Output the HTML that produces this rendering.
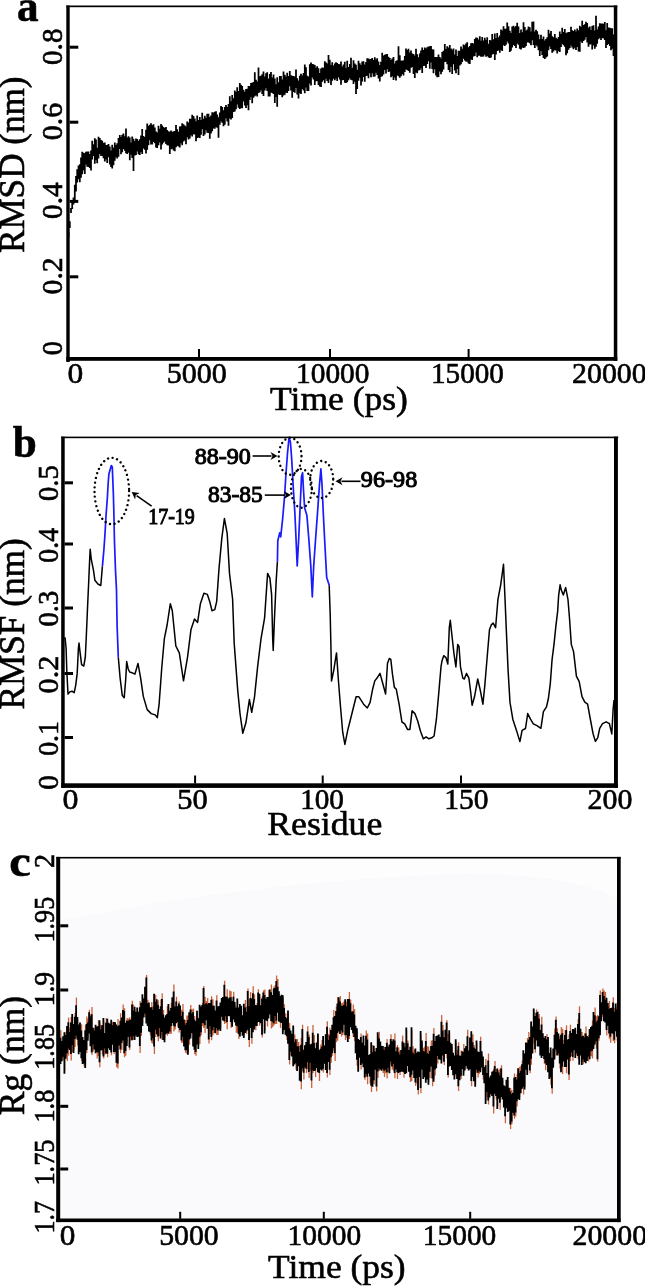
<!DOCTYPE html>
<html><head><meta charset="utf-8"><style>
html,body{margin:0;padding:0;background:#fff;}
svg{display:block;will-change:transform;filter:blur(0.3px);}
text{font-family:"Liberation Serif",serif;fill:#000;stroke:#000;stroke-width:0.6;}
g text{stroke-width:inherit;}
</style></head><body>
<svg width="645" height="1286" viewBox="0 0 645 1286">
<rect width="645" height="1286" fill="#fff"/>
<rect x="56.4" y="857.4" width="564.2" height="362.5" fill="#fafafc"/>
<path d="M58,858 L58,921 Q250,882 450,874 Q560,871 618,898 L618,858 Z" fill="#fdfdfe"/>
<path d="M68.5 231.8V237.5M69.8 221.3V227.9M71.0 207.9V213.1M72.2 202.4V209.1M73.5 197.4V204.6M74.8 184.8V202.1M76.0 176.0V191.4M77.2 169.3V182.4M78.5 165.6V179.3M79.8 164.2V182.3M81.0 157.4V177.7M82.2 151.8V174.3M83.5 152.8V170.4M84.8 153.2V173.9M86.0 151.7V164.4M87.2 151.5V166.8M88.5 151.4V166.9M89.8 154.1V167.9M91.0 150.5V170.4M92.2 140.7V159.6M93.5 144.3V155.9M94.8 138.3V163.8M96.0 139.6V160.3M97.2 147.7V163.3M98.5 136.8V158.4M99.8 137.9V154.1M101.0 140.0V156.1M102.2 140.7V156.0M103.5 142.7V158.2M104.8 142.5V161.4M106.0 144.9V159.6M107.2 145.1V162.9M108.5 144.0V157.2M109.8 146.6V164.6M111.0 150.6V167.1M112.2 144.8V168.6M113.5 147.4V165.2M114.8 142.5V160.7M116.0 144.9V157.2M117.2 143.2V158.5M118.5 138.0V156.7M119.8 135.1V148.9M121.0 136.9V154.3M122.2 134.7V152.3M123.5 133.4V148.9M124.8 136.3V150.7M126.0 128.4V153.2M127.2 137.5V154.0M128.5 136.2V152.7M129.8 137.4V160.3M131.0 142.4V154.7M132.2 136.6V158.0M133.5 138.8V171.0M134.8 141.0V155.6M136.0 138.5V155.0M137.2 139.0V151.5M138.5 140.8V154.3M139.8 139.2V155.0M141.0 135.5V151.9M142.2 128.9V153.9M143.5 136.1V148.6M144.8 137.1V149.8M146.0 129.8V153.5M147.2 123.4V149.8M148.5 125.8V145.2M149.8 124.7V140.2M151.0 123.3V144.6M152.2 125.2V144.6M153.5 124.3V141.9M154.8 127.5V143.2M156.0 131.5V147.6M157.2 132.4V148.1M158.5 125.7V145.2M159.8 128.8V142.6M161.0 123.9V149.4M162.2 125.4V144.5M163.5 127.0V142.7M164.8 128.0V141.6M166.0 127.1V143.9M167.2 130.1V145.2M168.5 131.3V145.5M169.8 131.7V154.0M171.0 130.6V149.2M172.2 132.0V148.8M173.5 131.3V150.4M174.8 131.1V151.2M176.0 125.1V147.2M177.2 129.3V145.8M178.5 131.8V146.4M179.8 126.4V147.4M181.0 126.3V143.2M182.2 123.2V145.3M183.5 124.3V141.4M184.8 125.6V140.4M186.0 126.6V144.3M187.2 121.4V137.3M188.5 122.5V139.5M189.8 118.8V138.5M191.0 118.7V135.3M192.2 114.7V136.6M193.5 116.0V134.2M194.8 118.4V134.6M196.0 121.3V141.2M197.2 115.6V138.0M198.5 119.9V137.6M199.8 116.9V138.0M201.0 119.9V134.8M202.2 112.8V129.3M203.5 118.8V135.9M204.8 115.7V134.6M206.0 117.7V130.3M207.2 113.8V132.8M208.5 113.7V133.0M209.8 116.9V138.8M211.0 115.6V133.4M212.2 112.2V131.3M213.5 112.4V128.6M214.8 111.7V128.7M216.0 111.3V126.9M217.2 114.4V127.8M218.5 117.2V137.7M219.8 112.4V124.8M221.0 105.9V121.4M222.2 107.1V122.7M223.5 110.3V126.2M224.8 106.9V124.8M226.0 104.9V118.3M227.2 107.0V121.5M228.5 104.1V125.7M229.8 96.3V118.6M231.0 101.2V119.6M232.2 95.1V118.1M233.5 98.2V112.0M234.8 90.5V111.5M236.0 92.0V109.2M237.2 87.3V104.5M238.5 90.9V107.7M239.8 82.9V108.9M241.0 84.8V108.0M242.2 86.0V108.3M243.5 89.8V101.6M244.8 91.7V105.4M246.0 88.9V108.1M247.2 88.7V105.2M248.5 85.9V110.3M249.8 86.1V100.1M251.0 83.1V97.2M252.2 82.7V103.3M253.5 82.1V97.8M254.8 72.3V96.3M256.0 79.7V95.2M257.2 81.4V96.4M258.5 67.6V93.0M259.8 76.2V92.3M261.0 75.7V90.3M262.2 74.3V93.9M263.5 71.5V95.9M264.8 76.6V90.5M266.0 73.3V88.3M267.2 72.3V91.1M268.5 78.6V96.6M269.8 74.1V96.5M271.0 72.0V92.4M272.2 77.5V93.1M273.5 74.4V94.0M274.8 78.4V102.9M276.0 84.2V97.0M277.2 77.3V106.7M278.5 82.3V94.6M279.8 75.9V94.9M281.0 76.0V94.8M282.2 79.4V97.2M283.5 71.6V95.5M284.8 74.8V94.7M286.0 76.5V92.4M287.2 72.7V93.0M288.5 76.0V90.9M289.8 71.0V86.2M291.0 75.3V90.5M292.2 75.8V97.7M293.5 76.0V92.0M294.8 76.5V92.8M296.0 69.5V88.0M297.2 78.3V94.4M298.5 80.4V98.5M299.8 75.8V93.2M301.0 73.7V94.0M302.2 75.4V89.1M303.5 73.0V90.6M304.8 64.6V93.3M306.0 67.3V87.4M307.2 75.7V91.1M308.5 76.4V91.1M309.8 64.2V83.6M311.0 62.6V85.4M312.2 64.0V77.5M313.5 64.2V79.5M314.8 65.0V85.0M316.0 67.7V81.3M317.2 66.2V81.2M318.5 68.3V85.1M319.8 72.9V86.6M321.0 68.4V87.1M322.2 67.6V81.7M323.5 67.8V80.3M324.8 61.2V83.2M326.0 62.5V78.8M327.2 63.5V81.1M328.5 55.0V82.9M329.8 59.8V79.5M331.0 65.0V85.1M332.2 62.2V80.8M333.5 65.5V78.7M334.8 63.5V80.2M336.0 62.2V78.4M337.2 62.9V80.9M338.5 64.0V77.2M339.8 64.3V79.4M341.0 61.6V84.7M342.2 66.4V80.3M343.5 64.6V80.1M344.8 61.7V82.7M346.0 68.2V83.1M347.2 60.8V82.2M348.5 66.9V80.2M349.8 64.1V78.3M351.0 57.8V79.7M352.2 67.8V80.2M353.5 60.2V84.0M354.8 63.5V81.8M356.0 64.8V94.0M357.2 69.8V88.9M358.5 60.8V80.8M359.8 63.3V77.8M361.0 64.9V85.5M362.2 61.5V81.6M363.5 61.2V76.9M364.8 64.5V81.8M366.0 61.9V75.9M367.2 58.3V75.8M368.5 58.6V78.3M369.8 59.2V73.2M371.0 58.9V77.3M372.2 58.0V73.3M373.5 60.0V76.8M374.8 57.2V76.5M376.0 59.5V72.8M377.2 58.2V75.0M378.5 61.5V78.5M379.8 65.0V81.4M381.0 61.8V76.7M382.2 52.8V76.3M383.5 55.4V74.5M384.8 54.8V70.0M386.0 54.3V73.5M387.2 53.9V69.2M388.5 56.7V72.0M389.8 57.9V71.6M391.0 59.9V77.2M392.2 58.6V76.2M393.5 57.1V80.0M394.8 63.5V77.5M396.0 61.0V80.5M397.2 60.3V75.5M398.5 46.3V76.2M399.8 55.3V77.8M401.0 60.6V76.3M402.2 60.8V74.1M403.5 60.3V75.4M404.8 56.1V71.9M406.0 48.5V69.2M407.2 50.0V69.9M408.5 48.8V71.0M409.8 52.6V72.8M411.0 50.6V67.7M412.2 53.4V67.0M413.5 54.0V74.0M414.8 55.6V78.1M416.0 48.8V72.6M417.2 54.3V73.2M418.5 57.2V70.6M419.8 53.6V70.0M421.0 50.6V68.3M422.2 47.6V72.9M423.5 50.0V66.1M424.8 47.6V65.7M426.0 48.4V67.9M427.2 47.2V64.0M428.5 46.6V61.3M429.8 46.2V68.8M431.0 45.9V62.6M432.2 49.3V68.9M433.5 49.6V73.3M434.8 56.9V69.3M436.0 57.0V75.6M437.2 57.1V77.3M438.5 54.4V77.0M439.8 56.9V71.6M441.0 58.6V74.2M442.2 52.1V71.7M443.5 50.7V69.4M444.8 44.1V62.1M446.0 48.9V61.8M447.2 46.2V64.3M448.5 47.4V70.1M449.8 45.1V72.3M451.0 48.4V66.7M452.2 49.8V74.0M453.5 48.4V64.2M454.8 54.4V70.4M456.0 49.5V73.2M457.2 55.9V69.1M458.5 50.7V75.0M459.8 50.8V65.6M461.0 46.4V64.3M462.2 48.8V61.9M463.5 44.5V58.7M464.8 45.3V60.4M466.0 43.6V61.4M467.2 42.3V61.7M468.5 47.2V63.6M469.8 45.9V64.0M471.0 43.2V59.4M472.2 43.0V59.9M473.5 43.6V56.6M474.8 39.0V55.9M476.0 37.5V52.4M477.2 37.8V57.3M478.5 39.5V55.8M479.8 36.3V55.7M481.0 40.7V56.8M482.2 37.0V56.8M483.5 40.6V56.5M484.8 37.8V54.7M486.0 40.1V56.8M487.2 37.3V56.0M488.5 43.7V57.5M489.8 39.9V58.1M491.0 40.4V57.5M492.2 33.9V54.6M493.5 39.2V53.9M494.8 33.4V59.9M496.0 38.1V54.6M497.2 33.0V51.1M498.5 37.2V50.5M499.8 35.6V52.7M501.0 29.5V49.9M502.2 30.6V50.9M503.5 26.2V45.2M504.8 28.8V45.9M506.0 28.8V44.8M507.2 22.6V41.4M508.5 26.3V43.6M509.8 30.8V52.1M511.0 33.0V50.7M512.2 26.5V47.4M513.5 25.8V45.1M514.8 27.2V46.1M516.0 26.1V48.0M517.2 22.8V43.6M518.5 26.5V44.7M519.8 33.0V48.7M521.0 29.5V49.6M522.2 32.2V47.5M523.5 22.3V47.9M524.8 27.1V47.5M526.0 30.7V46.1M527.2 29.4V42.5M528.5 26.5V42.4M529.8 27.2V43.3M531.0 31.5V45.2M532.2 21.8V40.2M533.5 21.6V44.9M534.8 31.5V47.9M536.0 29.7V45.0M537.2 31.3V46.4M538.5 34.4V50.2M539.8 39.2V55.9M541.0 34.8V50.9M542.2 38.9V54.9M543.5 36.4V58.0M544.8 40.4V58.9M546.0 38.9V57.6M547.2 37.3V56.6M548.5 29.7V50.3M549.8 33.4V46.5M551.0 30.9V49.1M552.2 36.3V52.8M553.5 37.2V51.4M554.8 33.9V50.0M556.0 37.7V50.4M557.2 38.9V53.5M558.5 37.1V51.3M559.8 31.6V51.9M561.0 34.0V46.9M562.2 27.8V44.0M563.5 32.0V45.3M564.8 29.1V46.7M566.0 33.2V55.2M567.2 32.4V53.3M568.5 32.0V49.7M569.8 31.9V48.1M571.0 26.8V45.5M572.2 30.2V47.5M573.5 31.0V49.2M574.8 29.6V47.8M576.0 31.5V49.9M577.2 28.6V46.9M578.5 30.3V51.4M579.8 25.8V51.8M581.0 27.1V41.6M582.2 20.8V43.1M583.5 25.1V40.9M584.8 24.2V39.8M586.0 21.8V37.0M587.2 22.9V42.6M588.5 27.5V46.8M589.8 26.5V44.5M591.0 29.9V44.2M592.2 26.1V49.4M593.5 25.2V45.4M594.8 30.4V48.8M596.0 15.8V46.7M597.2 29.4V43.7M598.5 26.6V39.3M599.8 23.3V38.0M601.0 23.6V39.9M602.2 23.4V38.0M603.5 23.8V38.5M604.8 22.1V39.9M606.0 30.3V48.0M607.2 23.1V45.0M608.5 27.5V44.0M609.8 27.7V46.0M611.0 28.3V50.2M612.2 28.2V48.7M613.5 34.6V56.0M614.8 36.1V50.3" fill="none" stroke="#000" stroke-width="1.75"/>
<polyline points="63.0,638.0 65.1,638.0 66.1,648.3 66.8,670.5 68.0,694.1 69.8,691.9 72.0,691.2 74.2,692.7 75.7,685.3 77.2,673.4 78.4,648.3 79.0,643.1 80.1,652.7 81.6,664.6 83.8,666.0 85.3,657.2 86.3,636.5 87.5,608.4 88.7,581.8 89.8,556.6 90.2,549.2 91.2,558.8 93.4,569.9 94.9,580.3 97.9,584.0 100.8,585.5 102.4,566.4" fill="none" stroke="#000" stroke-width="1.5" stroke-linejoin="round"/>
<polyline points="118.3,657.2 120.1,677.9 122.3,695.6 124.2,697.8 125.7,679.4 126.7,661.6 128.2,669.0 129.7,672.0 131.9,672.7 134.9,674.2 138.0,663.4 140.6,677.9 143.3,696.4 147.2,709.6 151.2,713.6 155.2,714.9 157.3,717.6 159.1,704.3 161.8,667.3 164.4,638.3 167.1,625.0 170.3,603.8 172.3,610.7 175.8,645.8 179.3,652.8 183.5,680.8 187.5,657.4 191.0,629.4 194.5,618.9 197.6,622.4 200.4,603.7 203.9,593.2 207.4,594.4 209.7,601.4 212.0,610.7 214.8,609.6 216.7,601.4 219.0,568.7 221.8,538.4 224.4,518.5 227.2,533.7 229.5,573.4 232.6,599.0 234.2,643.4 237.7,690.1 240.0,713.5 242.8,733.3 245.9,722.8 249.4,699.5 251.7,712.3 254.5,697.1 257.6,666.8 261.0,638.8 264.6,617.8 267.6,573.4 269.9,578.1 271.6,594.4 272.7,638.8 273.2,650.4 274.4,620.1 276.2,580.4 277.4,561.7" fill="none" stroke="#000" stroke-width="1.5" stroke-linejoin="round"/>
<polyline points="329.2,585.3 330.2,614.5 331.0,650.0 331.5,681.0 333.7,670.6 336.5,652.9 338.4,680.0 340.3,704.2 342.7,732.2 344.9,744.4 347.7,730.4 350.5,719.2 353.3,708.0 356.1,696.8 358.9,696.8 363.6,704.2 367.3,708.0 370.1,702.4 372.6,689.3 374.8,680.9 377.6,677.2 380.0,673.4 382.3,681.8 385.6,694.0 387.5,663.2 389.3,658.5 390.8,659.4 392.5,674.4 394.4,687.4 396.3,689.3 399.1,704.2 401.9,722.0 404.7,723.8 407.5,729.4 409.9,729.4 412.1,710.8 414.9,713.6 417.7,721.0 420.5,731.3 423.3,738.8 426.1,736.9 428.9,738.8 431.7,737.8 434.1,736.0 436.4,719.2 438.6,694.9 441.0,666.9 441.9,661.3 443.7,655.7 446.0,657.6 447.8,664.1 449.3,627.7 450.3,620.3 452.1,637.0 454.0,653.8 455.9,666.9 457.7,644.5 459.0,646.4 460.5,666.9 462.8,678.1 464.3,679.0 466.5,673.4 468.9,678.1 470.8,693.0 472.1,705.2 474.5,696.8 477.7,679.0 480.1,689.3 482.9,704.2 484.8,685.6 487.6,652.0 489.5,629.6 491.3,624.9 493.2,623.1 495.6,627.7 497.9,599.7 500.7,584.8 503.5,564.3 504.9,596.0 506.3,629.6 508.1,670.6 510.0,702.4 512.8,719.2 516.5,730.4 519.9,741.6 522.1,730.4 525.5,728.5 527.7,713.6 530.5,719.2 533.3,723.8 537.0,725.7 540.9,728.3 543.4,711.6 546.5,706.9 548.4,698.5 550.3,683.6 552.1,659.3 554.0,644.4 555.9,625.8 557.7,610.9 558.6,595.9 560.1,584.8 561.4,590.3 563.3,595.0 565.7,587.6 568.0,599.7 569.5,618.3 571.3,644.4 573.6,651.9 576.4,676.1 579.2,681.7 582.0,696.6 584.8,702.2 587.6,704.1 590.3,719.0 593.1,733.9 595.4,741.4 597.8,737.7 599.7,728.3 602.5,723.7 606.2,721.8 609.4,723.7 611.8,733.9 613.1,709.7 614.0,700.0" fill="none" stroke="#000" stroke-width="1.5" stroke-linejoin="round"/>
<polyline points="102.4,566.4 103.9,549.6 105.0,533.8 106.0,516.0 107.4,497.0 108.1,484.4 108.9,473.9 111.3,465.5 112.3,467.0 113.4,495.0 113.9,513.9 114.4,539.1 115.5,570.6 116.5,590.0 117.1,626.1 118.3,657.2" fill="none" stroke="#1a1aff" stroke-width="1.7" stroke-linejoin="round"/>
<polyline points="277.4,561.7 277.8,540.7 279.7,532.9 280.7,536.8 282.6,519.3 284.6,496.0 285.9,474.7 287.5,453.3 289.0,437.8 290.4,441.7 291.7,459.1 293.3,488.3 294.9,513.5 296.2,542.6 297.2,565.9 298.7,538.7 300.1,507.7 301.5,476.6 302.6,472.7 303.4,488.3 304.6,507.7 306.9,515.4 308.8,538.7 310.8,565.9 312.3,597.0 313.7,565.9 315.6,538.7 317.6,511.6 319.5,484.4 320.9,468.8 322.0,484.4 323.4,515.4 325.0,546.5 326.7,577.6 329.2,585.3" fill="none" stroke="#1a1aff" stroke-width="1.7" stroke-linejoin="round"/>
<ellipse cx="111.8" cy="491" rx="17.3" ry="33.2" fill="none" stroke="#000" stroke-width="2.4" stroke-dasharray="0.01 4.7" stroke-linecap="round"/>
<ellipse cx="290.1" cy="456.3" rx="11.4" ry="18.5" fill="none" stroke="#000" stroke-width="2.4" stroke-dasharray="0.01 4.7" stroke-linecap="round"/>
<ellipse cx="301.4" cy="488.3" rx="10.4" ry="19.4" fill="none" stroke="#000" stroke-width="2.4" stroke-dasharray="0.01 4.7" stroke-linecap="round"/>
<ellipse cx="321.7" cy="479.5" rx="11.5" ry="18.5" fill="none" stroke="#000" stroke-width="2.4" stroke-dasharray="0.01 4.7" stroke-linecap="round"/>
<line x1="151.6" y1="506.2" x2="136.60" y2="495.57" stroke="#000" stroke-width="1.6"/>
<polygon points="131.7,492.1 139.72,492.88 135.78,494.99 135.10,499.41" fill="#000"/>
<line x1="252.6" y1="456" x2="271.50" y2="456.00" stroke="#000" stroke-width="1.6"/>
<polygon points="277.5,456 270.50,460.00 272.50,456.00 270.50,452.00" fill="#000"/>
<line x1="264.8" y1="495.1" x2="284.90" y2="495.10" stroke="#000" stroke-width="1.6"/>
<polygon points="290.9,495.1 283.90,499.10 285.90,495.10 283.90,491.10" fill="#000"/>
<line x1="360.5" y1="481.3" x2="341.50" y2="481.30" stroke="#000" stroke-width="1.6"/>
<polygon points="335.5,481.3 342.50,477.30 340.50,481.30 342.50,485.30" fill="#000"/>
<path d="M60.8 1030.1V1061.0M62.1 1044.1V1058.3M63.4 1039.2V1060.2M64.7 1035.2V1070.7M66.0 1031.8V1055.7M67.3 1029.0V1061.1M68.6 1017.5V1055.6M69.9 1027.3V1046.9M71.2 1017.1V1060.6M72.5 1016.9V1052.1M73.8 1027.1V1050.1M75.1 1013.1V1046.9M76.4 997.5V1038.1M77.7 1020.0V1045.6M79.0 1027.5V1051.2M80.3 1025.4V1048.9M81.6 1024.3V1061.1M82.9 1040.1V1061.0M84.2 1042.9V1066.4M85.5 1025.1V1065.0M86.8 1016.6V1053.0M88.1 1018.5V1037.7M89.4 1009.8V1030.4M90.7 1014.3V1043.2M92.0 1007.1V1054.9M93.3 1030.7V1051.6M94.6 1027.8V1046.6M95.9 1027.7V1050.3M97.2 1029.4V1058.6M98.5 1020.3V1056.0M99.8 1023.2V1067.2M101.1 1025.0V1047.6M102.4 1028.2V1054.3M103.7 1020.9V1058.6M105.0 1035.9V1054.6M106.3 1018.0V1050.6M107.6 1021.7V1057.3M108.9 1025.7V1045.3M110.2 1026.8V1047.1M111.5 1022.8V1055.2M112.8 1021.7V1041.7M114.1 1025.1V1054.1M115.4 1025.2V1049.0M116.7 1027.6V1067.2M118.0 1018.9V1068.6M119.3 1028.3V1042.5M120.6 1013.3V1053.0M121.9 1020.5V1049.8M123.2 1004.5V1037.5M124.5 1008.2V1057.2M125.8 1025.8V1055.8M127.1 1018.1V1042.9M128.4 1018.6V1034.0M129.7 1017.3V1050.1M131.0 1022.6V1040.4M132.3 1000.8V1037.3M133.6 1004.5V1039.8M134.9 1009.7V1037.0M136.2 1015.1V1032.5M137.5 1010.6V1034.1M138.8 1014.7V1033.8M140.1 1001.0V1052.9M141.4 1005.8V1036.0M142.7 997.3V1023.0M144.0 1001.5V1014.6M145.3 989.8V1017.1M146.6 975.1V1020.4M147.9 999.8V1023.0M149.2 1005.4V1028.6M150.5 1010.3V1035.5M151.8 1002.1V1042.9M153.1 1006.2V1043.9M154.4 996.8V1054.0M155.7 994.8V1037.0M157.0 1002.3V1031.2M158.3 1000.3V1041.2M159.6 1012.1V1036.0M160.9 999.4V1035.6M162.2 993.2V1039.9M163.5 1009.9V1037.1M164.8 1020.5V1039.3M166.1 1018.2V1031.2M167.4 1006.2V1035.8M168.7 1007.1V1030.8M170.0 1013.8V1033.8M171.3 1002.7V1033.8M172.6 1000.3V1019.9M173.9 984.5V1031.4M175.2 1009.5V1029.4M176.5 996.7V1020.2M177.8 1009.2V1026.7M179.1 1001.3V1032.4M180.4 1008.6V1027.0M181.7 1009.8V1043.0M183.0 1004.1V1042.6M184.3 1022.5V1043.4M185.6 1020.0V1052.7M186.9 1015.5V1053.8M188.2 1015.6V1051.7M189.5 1015.2V1044.8M190.8 1005.0V1035.5M192.1 1009.4V1029.9M193.4 1008.6V1043.5M194.7 1016.1V1054.2M196.0 1024.2V1055.7M197.3 1013.8V1041.4M198.6 1020.9V1045.9M199.9 1007.7V1044.0M201.2 1009.5V1035.3M202.5 1002.7V1026.2M203.8 986.0V1028.1M205.1 996.8V1033.1M206.4 1000.9V1017.2M207.7 998.1V1025.7M209.0 1006.1V1043.5M210.3 1006.1V1034.1M211.6 996.3V1040.2M212.9 999.3V1035.6M214.2 1008.7V1033.0M215.5 1013.5V1030.3M216.8 995.2V1035.1M218.1 1009.5V1035.0M219.4 1009.1V1026.5M220.7 1005.5V1028.1M222.0 1001.0V1013.7M223.3 1000.1V1017.5M224.6 980.7V1024.1M225.9 999.5V1023.1M227.2 989.3V1029.2M228.5 1001.5V1012.9M229.8 990.4V1013.2M231.1 991.3V1027.9M232.4 1004.1V1023.7M233.7 991.7V1016.5M235.0 1004.9V1019.3M236.3 1010.5V1032.7M237.6 1001.5V1032.8M238.9 1010.5V1039.0M240.2 1007.0V1033.5M241.5 1008.7V1028.9M242.8 1018.2V1032.8M244.1 1006.8V1034.9M245.4 1000.0V1030.0M246.7 1006.4V1033.9M248.0 988.5V1026.7M249.3 999.3V1047.0M250.6 992.0V1024.9M251.9 1001.4V1043.7M253.2 986.2V1029.2M254.5 994.2V1026.6M255.8 1008.1V1030.3M257.1 1002.9V1022.9M258.4 989.2V1019.1M259.7 996.8V1025.8M261.0 1008.2V1020.3M262.3 995.9V1037.5M263.6 990.3V1016.3M264.9 989.4V1030.4M266.2 1001.8V1017.2M267.5 1000.0V1026.5M268.8 990.0V1015.6M270.1 992.5V1011.2M271.4 984.4V1028.5M272.7 997.9V1027.3M274.0 986.4V1025.4M275.3 985.0V1023.9M276.6 975.4V1024.0M277.9 979.1V1009.8M279.2 994.2V1018.4M280.5 998.9V1028.0M281.8 997.7V1020.0M283.1 998.3V1031.3M284.4 1004.3V1026.9M285.7 1013.2V1031.8M287.0 1021.2V1039.9M288.3 1013.5V1040.7M289.6 1022.9V1064.5M290.9 1033.5V1055.6M292.2 1036.7V1053.6M293.5 1028.4V1063.2M294.8 1034.5V1061.6M296.1 1042.2V1069.6M297.4 1039.0V1068.0M298.7 1041.9V1063.3M300.0 1045.8V1077.8M301.3 1037.9V1089.3M302.6 1024.7V1071.2M303.9 1052.7V1079.6M305.2 1048.3V1064.5M306.5 1044.9V1073.1M307.8 1026.2V1069.2M309.1 1034.4V1078.0M310.4 1047.4V1070.7M311.7 1046.7V1087.9M313.0 1025.0V1073.2M314.3 1034.9V1068.1M315.6 1051.2V1077.1M316.9 1045.6V1065.1M318.2 1036.5V1069.2M319.5 1053.1V1080.9M320.8 1044.5V1066.6M322.1 1040.1V1067.4M323.4 1039.1V1072.5M324.7 1048.6V1060.8M326.0 1037.3V1067.0M327.3 1021.2V1077.5M328.6 1033.9V1059.0M329.9 1027.8V1074.9M331.2 1033.0V1062.8M332.5 1027.7V1055.7M333.8 1010.0V1050.5M335.1 1018.9V1060.9M336.4 1006.4V1042.3M337.7 996.9V1040.7M339.0 1000.3V1028.5M340.3 995.9V1031.1M341.6 1003.3V1036.6M342.9 1002.6V1035.0M344.2 1000.7V1021.8M345.5 1002.3V1040.0M346.8 1001.7V1037.7M348.1 1001.9V1038.9M349.4 992.0V1039.0M350.7 999.4V1024.3M352.0 1014.6V1027.0M353.3 1004.4V1037.0M354.6 1009.0V1041.0M355.9 1028.8V1050.2M357.2 1031.2V1065.8M358.5 1042.0V1068.7M359.8 1042.9V1054.7M361.1 1033.5V1069.6M362.4 1045.4V1060.6M363.7 1038.4V1064.3M365.0 1048.5V1079.8M366.3 1030.4V1076.4M367.6 1033.6V1084.2M368.9 1058.1V1070.4M370.2 1057.2V1083.5M371.5 1045.2V1091.9M372.8 1045.0V1083.7M374.1 1048.7V1084.3M375.4 1054.5V1066.8M376.7 1050.9V1091.3M378.0 1035.3V1077.9M379.3 1031.8V1071.1M380.6 1044.5V1066.7M381.9 1049.0V1067.7M383.2 1049.0V1073.0M384.5 1046.8V1076.9M385.8 1049.9V1073.3M387.1 1039.0V1078.5M388.4 1049.5V1072.3M389.7 1047.6V1070.2M391.0 1034.3V1064.7M392.3 1044.3V1069.6M393.6 1042.2V1071.0M394.9 1033.5V1078.3M396.2 1054.3V1066.4M397.5 1045.0V1078.9M398.8 1047.6V1069.9M400.1 1050.6V1075.0M401.4 1053.1V1068.7M402.7 1035.4V1068.7M404.0 1045.8V1077.8M405.3 1043.0V1070.9M406.6 1030.4V1070.3M407.9 1040.6V1063.1M409.2 1052.9V1068.7M410.5 1049.7V1081.9M411.8 1030.2V1080.9M413.1 1046.2V1067.6M414.4 1049.8V1074.9M415.7 1051.6V1085.9M417.0 1055.7V1083.5M418.3 1054.4V1094.4M419.6 1055.1V1074.0M420.9 1034.0V1093.2M422.2 1043.5V1066.5M423.5 1047.8V1076.0M424.8 1046.6V1074.3M426.1 1033.0V1079.8M427.4 1046.3V1076.4M428.7 1046.6V1081.8M430.0 1053.8V1078.1M431.3 1040.6V1063.6M432.6 1040.2V1086.2M433.9 1028.1V1078.8M435.2 1044.0V1075.5M436.5 1039.1V1065.3M437.8 1038.6V1063.6M439.1 1037.5V1056.3M440.4 1040.0V1056.7M441.7 1015.1V1060.6M443.0 1025.1V1052.5M444.3 1040.2V1065.0M445.6 1032.7V1051.0M446.9 1020.1V1058.5M448.2 1033.4V1077.4M449.5 1033.2V1063.4M450.8 1045.8V1062.9M452.1 1047.1V1067.0M453.4 1055.7V1072.2M454.7 1058.6V1076.6M456.0 1042.3V1071.3M457.3 1049.7V1076.1M458.6 1042.2V1091.1M459.9 1058.5V1077.3M461.2 1050.5V1079.1M462.5 1054.2V1066.1M463.8 1044.1V1072.7M465.1 1051.3V1067.6M466.4 1048.9V1063.1M467.7 1029.8V1065.7M469.0 1053.5V1067.5M470.3 1040.4V1066.2M471.6 1034.3V1086.3M472.9 1034.2V1073.9M474.2 1044.9V1078.2M475.5 1051.7V1083.7M476.8 1043.5V1072.7M478.1 1054.4V1077.6M479.4 1055.1V1073.8M480.7 1036.7V1069.3M482.0 1054.3V1064.6M483.3 1059.5V1079.6M484.6 1070.0V1080.3M485.9 1059.0V1101.0M487.2 1076.0V1097.2M488.5 1053.6V1104.4M489.8 1080.5V1094.4M491.1 1078.6V1091.3M492.4 1074.7V1093.1M493.7 1068.8V1113.5M495.0 1061.1V1090.8M496.3 1069.3V1099.4M497.6 1071.4V1106.0M498.9 1070.0V1095.8M500.2 1068.2V1109.8M501.5 1065.3V1094.0M502.8 1080.7V1096.5M504.1 1088.2V1104.4M505.4 1089.2V1123.2M506.7 1082.7V1105.3M508.0 1080.1V1109.0M509.3 1090.7V1108.0M510.6 1087.9V1128.9M511.9 1090.0V1124.2M513.2 1095.8V1109.8M514.5 1073.5V1118.8M515.8 1079.9V1116.6M517.1 1074.2V1106.5M518.4 1071.3V1095.9M519.7 1066.8V1097.0M521.0 1065.8V1090.2M522.3 1060.5V1085.7M523.6 1053.3V1094.4M524.9 1056.5V1086.5M526.2 1045.5V1066.7M527.5 1038.1V1071.9M528.8 1032.0V1061.6M530.1 1040.0V1073.3M531.4 1024.5V1064.7M532.7 1029.6V1050.6M534.0 1011.6V1043.6M535.3 1019.1V1052.8M536.6 1009.4V1037.4M537.9 1014.7V1043.6M539.2 1014.0V1043.4M540.5 1032.9V1052.5M541.8 1016.8V1055.0M543.1 1036.3V1053.1M544.4 1041.1V1063.8M545.7 1039.0V1070.2M547.0 1034.0V1062.1M548.3 1040.1V1069.3M549.6 1055.9V1076.1M550.9 1050.4V1084.7M552.2 1060.7V1093.8M553.5 1051.5V1064.7M554.8 1028.4V1056.6M556.1 1016.6V1051.6M557.4 1028.2V1052.6M558.7 1036.5V1055.8M560.0 1036.6V1068.6M561.3 1027.1V1069.3M562.6 1028.8V1073.9M563.9 1039.7V1058.6M565.2 1029.9V1064.1M566.5 1025.3V1073.3M567.8 1042.5V1056.5M569.1 1034.6V1080.1M570.4 1024.8V1061.2M571.7 1036.0V1056.0M573.0 1032.1V1060.7M574.3 1032.2V1047.2M575.6 1030.7V1055.0M576.9 1037.0V1055.6M578.2 1019.0V1059.0M579.5 1006.3V1061.8M580.8 1031.8V1052.4M582.1 1032.1V1062.1M583.4 1038.8V1064.2M584.7 1033.2V1058.9M586.0 1026.4V1060.2M587.3 1038.9V1058.1M588.6 1035.1V1061.5M589.9 1032.0V1056.2M591.2 1030.1V1056.3M592.5 1020.6V1058.6M593.8 1015.1V1046.0M595.1 1007.4V1041.5M596.4 1016.2V1048.6M597.7 1015.1V1061.5M599.0 1019.2V1040.7M600.3 990.5V1032.3M601.6 1005.2V1018.3M602.9 988.5V1016.8M604.2 990.4V1018.2M605.5 992.1V1019.6M606.8 1000.7V1035.4M608.1 1006.1V1022.8M609.4 1001.0V1038.7M610.7 1011.1V1042.7M612.0 1010.7V1030.2M613.3 997.3V1041.0M614.6 1007.7V1043.2M615.9 1006.6V1028.3M617.2 1003.1V1040.8" fill="none" stroke="#c8643c" stroke-width="1.3"/>
<path d="M60.5 1037.8V1064.0M61.8 1041.1V1061.3M63.1 1036.2V1056.8M64.4 1032.2V1073.7M65.7 1035.1V1058.7M67.0 1026.0V1053.2M68.3 1022.2V1048.2M69.6 1031.9V1049.9M70.9 1022.4V1054.1M72.2 1013.9V1045.0M73.5 1024.1V1053.1M74.8 1016.7V1039.1M76.1 1005.2V1035.5M77.4 1017.0V1039.7M78.7 1024.5V1054.2M80.0 1022.4V1051.9M81.3 1030.6V1058.3M82.6 1037.1V1064.0M83.9 1039.9V1063.6M85.2 1030.2V1068.0M86.5 1024.1V1050.0M87.8 1022.5V1040.7M89.1 1012.3V1033.4M90.4 1016.5V1046.2M91.7 1014.3V1052.4M93.0 1027.7V1044.4M94.3 1030.5V1049.6M95.6 1024.7V1053.3M96.9 1026.4V1052.1M98.2 1025.9V1052.4M99.5 1020.2V1062.2M100.8 1029.4V1050.6M102.1 1025.2V1049.9M103.4 1017.9V1056.5M104.7 1032.9V1048.6M106.0 1022.8V1053.6M107.3 1018.7V1053.7M108.6 1022.7V1048.3M109.9 1023.8V1050.1M111.2 1019.8V1052.4M112.5 1025.2V1044.7M113.8 1022.1V1052.0M115.1 1022.2V1052.0M116.4 1024.6V1062.8M117.7 1026.2V1063.4M119.0 1025.3V1045.5M120.3 1020.8V1049.5M121.6 1017.5V1043.1M122.9 1010.0V1040.5M124.2 1011.0V1053.2M125.5 1022.8V1050.9M126.8 1020.5V1045.9M128.1 1021.3V1037.0M129.4 1020.0V1047.6M130.7 1019.6V1036.4M132.0 1004.6V1040.3M133.3 1010.7V1036.2M134.6 1006.7V1040.0M135.9 1012.1V1035.5M137.2 1007.6V1037.1M138.5 1011.7V1036.8M139.8 1007.2V1045.9M141.1 1002.8V1032.7M142.4 994.3V1026.0M143.7 998.5V1017.6M145.0 986.8V1013.5M146.3 977.6V1023.4M147.6 1003.1V1026.0M148.9 1002.4V1031.6M150.2 1007.3V1032.2M151.5 1007.3V1040.5M152.8 1009.8V1038.2M154.1 993.8V1046.4M155.4 1001.8V1029.8M156.7 999.3V1034.2M158.0 1005.0V1036.6M159.3 1009.1V1028.1M160.6 1006.2V1038.6M161.9 999.1V1032.1M163.2 1014.5V1040.1M164.5 1017.5V1042.3M165.8 1015.2V1034.2M167.1 1014.1V1033.1M168.4 1004.1V1033.8M169.7 1010.8V1031.5M171.0 1008.0V1026.2M172.3 997.3V1022.9M173.6 991.6V1025.8M174.9 1006.5V1026.5M176.2 1001.5V1023.2M177.5 1006.2V1022.0M178.8 1003.6V1028.0M180.1 1005.6V1030.0M181.4 1016.1V1040.5M182.7 1011.7V1036.8M184.0 1019.5V1046.4M185.3 1024.8V1050.3M186.6 1023.0V1050.0M187.9 1020.1V1054.7M189.2 1012.2V1039.6M190.5 1009.5V1038.5M191.8 1013.5V1032.9M193.1 1012.3V1046.5M194.4 1019.4V1049.8M195.7 1021.2V1051.9M197.0 1010.8V1044.4M198.3 1017.9V1048.9M199.6 1004.7V1036.7M200.9 1006.5V1032.3M202.2 1005.1V1023.0M203.5 988.0V1023.3M204.8 1004.4V1025.3M206.1 1003.3V1020.2M207.4 1004.2V1028.7M208.7 1003.1V1039.6M210.0 1003.1V1026.2M211.3 999.8V1037.1M212.6 1005.4V1030.3M213.9 1005.7V1026.9M215.2 1010.5V1033.3M216.5 1000.6V1028.2M217.8 1006.5V1030.6M219.1 1006.1V1029.5M220.4 1002.5V1031.1M221.7 998.0V1016.7M223.0 997.1V1020.5M224.3 984.7V1021.2M225.6 996.5V1016.3M226.9 996.7V1022.1M228.2 998.5V1015.9M229.5 997.4V1016.2M230.8 997.2V1022.0M232.1 1001.1V1026.7M233.4 996.7V1019.5M234.7 1001.9V1022.3M236.0 1007.5V1025.4M237.3 998.5V1026.3M238.6 1007.5V1034.1M239.9 1004.0V1036.5M241.2 1005.7V1031.9M242.5 1015.2V1035.8M243.8 1003.8V1037.9M245.1 1007.6V1033.0M246.4 1011.9V1031.2M247.7 991.1V1029.7M249.0 1005.9V1040.1M250.3 998.0V1027.9M251.6 998.4V1038.0M252.9 993.3V1032.2M254.2 999.1V1029.6M255.5 1005.1V1026.1M256.8 1005.3V1025.9M258.1 992.6V1022.1M259.4 993.8V1022.0M260.7 1005.2V1023.3M262.0 998.5V1034.8M263.3 992.4V1019.3M264.6 995.1V1033.4M265.9 998.8V1020.2M267.2 997.0V1021.0M268.5 997.0V1018.6M269.8 989.5V1014.2M271.1 992.2V1021.1M272.4 994.9V1021.8M273.7 988.4V1023.2M275.0 987.9V1016.1M276.3 980.9V1020.8M277.6 986.8V1012.8M278.9 991.2V1021.4M280.2 995.9V1022.3M281.5 994.7V1023.0M282.8 995.3V1034.3M284.1 1007.9V1029.9M285.4 1016.9V1034.8M286.7 1018.2V1036.2M288.0 1010.5V1043.7M289.3 1028.2V1060.1M290.6 1030.5V1051.8M291.9 1033.7V1056.6M293.2 1025.4V1066.2M294.5 1042.2V1064.6M295.8 1039.2V1063.3M297.1 1046.3V1071.0M298.4 1046.2V1066.3M299.7 1051.7V1080.8M301.0 1044.7V1081.6M302.3 1029.1V1068.5M303.6 1049.7V1072.7M304.9 1045.3V1067.5M306.2 1041.9V1068.7M307.5 1031.4V1062.1M308.8 1036.9V1072.1M310.1 1044.4V1062.8M311.4 1043.7V1080.6M312.7 1032.8V1070.5M314.0 1042.9V1071.1M315.3 1048.2V1070.5M316.6 1042.6V1068.1M317.9 1033.5V1072.2M319.2 1050.1V1072.9M320.5 1048.7V1069.6M321.8 1046.7V1070.4M323.1 1036.1V1068.8M324.4 1045.6V1063.8M325.7 1034.3V1070.0M327.0 1026.7V1072.9M328.3 1039.9V1062.0M329.6 1035.4V1069.8M330.9 1030.0V1057.3M332.2 1024.7V1053.1M333.5 1017.2V1048.1M334.8 1015.9V1053.2M336.1 1011.1V1038.2M337.4 1003.6V1033.1M338.7 997.3V1031.5M340.0 1001.5V1034.1M341.3 1005.7V1030.6M342.6 1005.9V1032.4M343.9 1005.1V1024.8M345.2 999.3V1035.3M346.5 1006.3V1034.9M347.8 998.9V1041.9M349.1 999.1V1035.9M350.4 1003.3V1027.3M351.7 1011.6V1030.0M353.0 1011.2V1033.2M354.3 1014.4V1037.0M355.6 1025.8V1053.2M356.9 1028.2V1059.7M358.2 1039.0V1071.7M359.5 1039.9V1057.7M360.8 1037.0V1065.0M362.1 1042.4V1063.6M363.4 1035.4V1067.3M364.7 1045.5V1077.5M366.0 1035.7V1073.8M367.3 1039.4V1076.7M368.6 1055.1V1073.4M369.9 1054.2V1076.4M371.2 1042.2V1085.8M372.5 1052.3V1086.7M373.8 1045.7V1080.2M375.1 1051.5V1069.8M376.4 1047.9V1086.6M377.7 1032.3V1071.4M379.0 1038.6V1068.6M380.3 1041.5V1069.7M381.6 1046.0V1070.7M382.9 1046.0V1068.8M384.2 1050.1V1070.7M385.5 1046.9V1069.6M386.8 1042.8V1072.2M388.1 1046.5V1067.8M389.4 1044.6V1073.2M390.7 1039.1V1061.6M392.0 1041.3V1066.4M393.3 1039.2V1063.8M394.6 1040.5V1072.9M395.9 1051.3V1069.4M397.2 1047.3V1072.3M398.5 1052.2V1072.9M399.8 1054.8V1072.1M401.1 1050.1V1071.7M402.4 1041.5V1071.7M403.7 1042.8V1072.2M405.0 1047.2V1073.9M406.3 1027.4V1073.3M407.6 1043.2V1066.1M408.9 1049.9V1071.7M410.2 1046.7V1077.3M411.5 1027.2V1074.7M412.8 1052.4V1070.6M414.1 1054.2V1077.9M415.4 1048.6V1082.4M416.7 1052.7V1077.9M418.0 1051.4V1089.9M419.3 1052.1V1077.0M420.6 1031.0V1088.1M421.9 1040.5V1069.5M423.2 1051.0V1079.0M424.5 1051.6V1077.3M425.8 1040.9V1082.8M427.1 1053.2V1079.4M428.4 1054.0V1084.8M429.7 1050.8V1071.8M431.0 1046.1V1066.6M432.3 1045.7V1078.4M433.6 1033.7V1081.8M434.9 1041.0V1069.4M436.2 1036.1V1068.3M437.5 1035.6V1056.1M438.8 1034.5V1059.3M440.1 1037.0V1059.7M441.4 1021.7V1063.6M442.7 1030.4V1055.5M444.0 1037.2V1061.8M445.3 1029.7V1054.0M446.6 1022.4V1054.0M447.9 1041.0V1074.9M449.2 1030.2V1066.4M450.5 1042.8V1065.9M451.8 1044.1V1070.0M453.1 1052.7V1075.2M454.4 1055.6V1079.6M455.7 1039.3V1074.3M457.0 1054.8V1079.1M458.3 1046.0V1086.2M459.6 1055.5V1080.3M460.9 1055.7V1075.8M462.2 1051.2V1069.1M463.5 1052.0V1075.7M464.8 1048.3V1070.6M466.1 1045.9V1066.1M467.4 1036.2V1068.7M468.7 1050.5V1070.5M470.0 1037.4V1069.2M471.3 1031.3V1081.0M472.6 1042.2V1076.9M473.9 1047.6V1081.2M475.2 1048.7V1086.7M476.5 1040.5V1069.7M477.8 1051.4V1072.7M479.1 1052.1V1070.7M480.4 1040.9V1072.3M481.7 1051.3V1067.6M483.0 1056.5V1075.1M484.3 1067.0V1083.3M485.6 1065.3V1104.0M486.9 1073.0V1092.1M488.2 1060.5V1100.5M489.5 1077.5V1097.4M490.8 1075.6V1094.3M492.1 1071.7V1096.1M493.4 1070.8V1106.5M494.7 1065.9V1093.8M496.0 1072.0V1096.0M497.3 1068.4V1109.0M498.6 1072.5V1098.8M499.9 1075.6V1102.7M501.2 1068.4V1097.0M502.5 1077.7V1099.5M503.8 1085.2V1107.4M505.1 1086.2V1116.3M506.4 1079.7V1108.3M507.7 1077.1V1112.0M509.0 1087.7V1111.0M510.3 1091.4V1124.5M511.6 1093.9V1121.4M512.9 1092.8V1112.8M514.2 1077.7V1115.5M515.5 1076.9V1112.4M516.8 1079.6V1101.2M518.1 1068.3V1098.9M519.4 1073.1V1100.0M520.7 1070.7V1093.2M522.0 1064.3V1088.7M523.3 1050.3V1086.8M524.6 1053.5V1089.5M525.9 1042.5V1069.7M527.2 1042.8V1074.9M528.5 1039.8V1064.6M529.8 1037.0V1070.6M531.1 1021.5V1058.8M532.4 1026.6V1053.6M533.7 1008.6V1037.7M535.0 1016.1V1049.3M536.3 1012.8V1040.4M537.6 1011.7V1046.6M538.9 1018.4V1046.4M540.2 1029.9V1055.5M541.5 1024.5V1058.0M542.8 1033.3V1056.1M544.1 1038.1V1059.1M545.4 1036.0V1063.3M546.7 1039.6V1065.1M548.0 1037.1V1072.3M549.3 1052.9V1079.1M550.6 1047.4V1077.6M551.9 1057.7V1088.3M553.2 1048.5V1067.7M554.5 1034.7V1059.6M555.8 1019.7V1049.4M557.1 1032.0V1055.6M558.4 1033.5V1053.4M559.7 1039.3V1063.4M561.0 1034.8V1072.3M562.3 1033.3V1066.7M563.6 1044.0V1061.6M564.9 1035.0V1067.1M566.2 1030.0V1067.1M567.5 1039.5V1059.5M568.8 1039.1V1074.5M570.1 1031.0V1057.2M571.4 1033.0V1052.4M572.7 1029.1V1057.1M574.0 1029.2V1050.2M575.3 1027.7V1058.0M576.6 1034.0V1053.2M577.9 1023.9V1055.9M579.2 1013.0V1064.8M580.5 1028.8V1055.4M581.8 1036.5V1065.1M583.1 1035.8V1059.4M584.4 1037.2V1061.9M585.7 1033.4V1063.2M587.0 1035.9V1061.1M588.3 1037.3V1056.5M589.6 1029.0V1059.2M590.9 1027.1V1051.2M592.2 1025.7V1050.7M593.5 1012.1V1049.0M594.8 1015.3V1044.5M596.1 1022.2V1041.3M597.4 1020.4V1059.2M598.7 1016.2V1038.3M600.0 995.1V1035.3M601.3 1002.2V1021.3M602.6 992.1V1014.5M603.9 996.0V1021.2M605.2 999.8V1022.6M606.5 997.7V1029.9M607.8 1003.1V1025.8M609.1 1008.9V1033.4M610.4 1008.1V1036.7M611.7 1007.7V1033.2M613.0 1002.6V1033.8M614.3 1011.8V1039.7M615.6 1003.6V1031.3M616.9 1009.4V1036.7" fill="none" stroke="#000" stroke-width="1.8"/>
<rect x="66.3" y="5.5" width="551" height="1.7" fill="#000"/>
<rect x="613.8" y="5.5" width="3.5" height="355.3" fill="#000"/>
<rect x="66.3" y="5.5" width="3.4" height="356.5" fill="#000"/>
<rect x="66.3" y="357" width="551" height="3.8" fill="#000"/>
<rect x="69.7" y="45.7" width="8.6" height="3" fill="#000"/>
<rect x="69.7" y="120.7" width="8.6" height="3" fill="#000"/>
<rect x="69.7" y="199.9" width="8.6" height="3" fill="#000"/>
<rect x="69.7" y="275.3" width="8.6" height="3" fill="#000"/>
<rect x="198" y="349" width="2" height="8" fill="#000"/>
<rect x="329" y="349" width="2" height="8" fill="#000"/>
<rect x="467.6" y="349" width="2" height="8" fill="#000"/>
<text transform="translate(17.02,21.29) scale(0.9587,1)" font-size="45" font-weight="bold">a</text>
<text transform="translate(67.51,383.14) scale(1.0842,1)" font-size="29.0">0</text>
<text transform="translate(166.65,383.14) scale(1.0383,1)" font-size="29.0">5000</text>
<text transform="translate(296.01,383.14) scale(1.0143,1)" font-size="29.0">10000</text>
<text transform="translate(431.03,383.14) scale(1.0056,1)" font-size="29.0">15000</text>
<text transform="translate(572.09,383.14) scale(1.0300,1)" font-size="29.0">20000</text>
<text transform="translate(270.06,409.50) scale(1.0305,1)" font-size="34.5">Time (ps)</text>
<text transform="translate(62.40,355.17) rotate(-90) scale(0.9701,1)" font-size="29.0">0</text>
<text transform="translate(62.40,294.43) rotate(-90) scale(1.0231,1)" font-size="29.0">0.2</text>
<text transform="translate(62.40,218.91) rotate(-90) scale(1.0100,1)" font-size="29.0">0.4</text>
<text transform="translate(62.40,140.34) rotate(-90) scale(1.0336,1)" font-size="29.0">0.6</text>
<text transform="translate(62.40,65.01) rotate(-90) scale(1.0083,1)" font-size="29.0">0.8</text>
<text transform="translate(23.90,253.02) rotate(-90) scale(1.0035,1)" font-size="35.0">RMSD (nm)</text>
<rect x="61.2" y="436.6" width="557" height="1.6" fill="#000"/>
<rect x="614" y="436.6" width="3.9" height="351.2" fill="#000"/>
<rect x="61.2" y="436.6" width="3.5" height="351.2" fill="#000"/>
<rect x="61.2" y="783.3" width="556.7" height="4.6" fill="#000"/>
<rect x="64.5" y="481.3" width="8.5" height="3" fill="#000"/>
<rect x="64.5" y="542.5" width="8.5" height="3" fill="#000"/>
<rect x="64.5" y="606.5" width="8.5" height="3" fill="#000"/>
<rect x="64.5" y="672.0" width="8.5" height="3" fill="#000"/>
<rect x="64.5" y="736.0" width="8.5" height="3" fill="#000"/>
<rect x="194.1" y="775.5" width="2" height="8" fill="#000"/>
<rect x="321.7" y="775.5" width="2" height="8" fill="#000"/>
<rect x="460" y="775.5" width="2" height="8" fill="#000"/>
<text transform="translate(12.64,456.80) scale(0.9606,1)" font-size="45" font-weight="bold">b</text>
<text transform="translate(62.59,809.44) scale(1.1005,1)" font-size="29.0">0</text>
<text transform="translate(177.33,809.44) scale(1.0501,1)" font-size="29.0">50</text>
<text transform="translate(300.13,809.44) scale(1.0071,1)" font-size="29.0">100</text>
<text transform="translate(444.20,809.44) scale(1.0172,1)" font-size="29.0">150</text>
<text transform="translate(587.48,809.44) scale(1.0318,1)" font-size="29.0">200</text>
<text transform="translate(267.26,835.30) scale(1.0469,1)" font-size="34.1">Residue</text>
<text transform="translate(58.00,789.81) rotate(-90) scale(1.0108,1)" font-size="29.0">0</text>
<text transform="translate(58.00,755.86) rotate(-90) scale(0.9617,1)" font-size="29.0">0.1</text>
<text transform="translate(58.00,693.45) rotate(-90) scale(1.0440,1)" font-size="29.0">0.2</text>
<text transform="translate(58.00,626.59) rotate(-90) scale(0.9886,1)" font-size="29.0">0.3</text>
<text transform="translate(58.00,562.66) rotate(-90) scale(0.9609,1)" font-size="29.0">0.4</text>
<text transform="translate(58.00,501.10) rotate(-90) scale(0.9945,1)" font-size="29.0">0.5</text>
<text transform="translate(23.90,709.52) rotate(-90) scale(1.0061,1)" font-size="35.0">RMSF (nm)</text>
<rect x="56.4" y="856.9" width="564.2" height="1.6" fill="#000"/>
<rect x="617" y="856.9" width="3.7" height="365.2" fill="#000"/>
<rect x="56.2" y="856.9" width="4.0" height="365.2" fill="#000"/>
<rect x="56.2" y="1218.5" width="564.4" height="3.6" fill="#000"/>
<rect x="60.2" y="924.3" width="8" height="3" fill="#000"/>
<rect x="60.2" y="988.5" width="8" height="3" fill="#000"/>
<rect x="60.2" y="1046.5" width="8" height="3" fill="#000"/>
<rect x="60.2" y="1104.8" width="8" height="3" fill="#000"/>
<rect x="60.2" y="1167.5" width="8" height="3" fill="#000"/>
<rect x="179.2" y="1211.8" width="2" height="7" fill="#000"/>
<rect x="322.8" y="1211.8" width="2" height="7" fill="#000"/>
<rect x="469.2" y="1211.8" width="2" height="7" fill="#000"/>
<text transform="translate(9.25,876.04) scale(1.0764,1)" font-size="45" font-weight="bold">c</text>
<text transform="translate(59.81,1245.24) scale(1.0761,1)" font-size="29.0">0</text>
<text transform="translate(159.17,1245.24) scale(1.0274,1)" font-size="29.0">5000</text>
<text transform="translate(287.61,1245.24) scale(1.0157,1)" font-size="29.0">10000</text>
<text transform="translate(422.81,1245.24) scale(1.0143,1)" font-size="29.0">15000</text>
<text transform="translate(572.49,1245.24) scale(1.0300,1)" font-size="29.0">20000</text>
<text transform="translate(268.06,1278.20) scale(1.0464,1)" font-size="33.9">Time (ps)</text>
<text transform="translate(54.00,867.94) rotate(-90) scale(0.9741,1)" font-size="29.0">2</text>
<text transform="translate(54.00,942.50) rotate(-90) scale(0.9014,1)" font-size="29.0">1.95</text>
<text transform="translate(54.00,1006.44) rotate(-90) scale(0.9544,1)" font-size="29.0">1.9</text>
<text transform="translate(54.00,1069.70) rotate(-90) scale(0.9014,1)" font-size="29.0">1.85</text>
<text transform="translate(54.00,1122.62) rotate(-90) scale(0.9089,1)" font-size="29.0">1.8</text>
<text transform="translate(54.00,1185.62) rotate(-90) scale(0.9099,1)" font-size="29.0">1.75</text>
<text transform="translate(54.00,1233.49) rotate(-90) scale(0.8956,1)" font-size="29.0">1.7</text>
<text transform="translate(23.90,1115.13) rotate(-90) scale(1.0135,1)" font-size="35.0">Rg (nm)</text>
<g style="stroke-width:1.0">
<text transform="translate(148.14,524.49) scale(0.8518,1)" font-size="23.5">17-19</text>
<text transform="translate(194.68,463.99) scale(1.0261,1)" font-size="23.5">88-90</text>
<text transform="translate(208.11,502.39) scale(0.9983,1)" font-size="23.5">83-85</text>
<text transform="translate(360.83,487.49) scale(1.0290,1)" font-size="23.5">96-98</text>
</g>
</svg>
</body></html>
